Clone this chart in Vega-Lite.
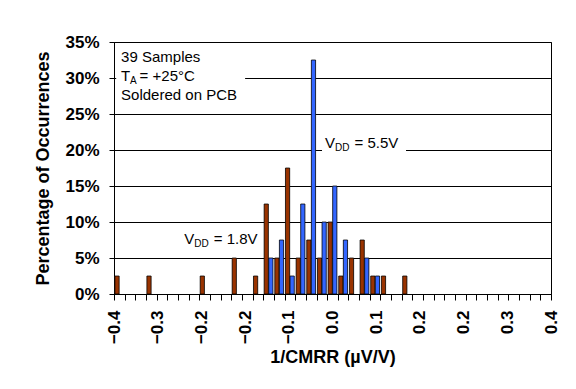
{
  "$schema": "https://vega.github.io/schema/vega-lite/v6.json",
  "width": 437,
  "height": 252,
  "autosize": {"type": "none"},
  "padding": {"left": 114, "top": 42, "right": 25, "bottom": 95},
  "background": "white",
  "config": {
    "font": "Liberation Sans",
    "view": {"stroke": "black", "strokeWidth": 1},
    "axis": {
      "labelFont": "Liberation Sans",
      "titleFont": "Liberation Sans",
      "labelColor": "black",
      "titleColor": "black",
      "domainColor": "black",
      "tickColor": "black",
      "gridColor": "black"
    },
    "text": {"font": "Liberation Sans", "color": "black", "align": "left", "baseline": "alphabetic"}
  },
  "layer": [
    {
      "data": {
        "values": [
          {"bin": -0.4, "series": "1.8V", "pct": 0.025},
          {"bin": -0.34, "series": "1.8V", "pct": 0.025},
          {"bin": -0.24, "series": "1.8V", "pct": 0.025},
          {"bin": -0.18, "series": "1.8V", "pct": 0.05},
          {"bin": -0.14, "series": "1.8V", "pct": 0.025},
          {"bin": -0.12, "series": "1.8V", "pct": 0.125},
          {"bin": -0.1, "series": "1.8V", "pct": 0.05},
          {"bin": -0.08, "series": "1.8V", "pct": 0.175},
          {"bin": -0.06, "series": "1.8V", "pct": 0.05},
          {"bin": -0.04, "series": "1.8V", "pct": 0.075},
          {"bin": -0.02, "series": "1.8V", "pct": 0.05},
          {"bin": 0, "series": "1.8V", "pct": 0.1},
          {"bin": 0.02, "series": "1.8V", "pct": 0.025},
          {"bin": 0.04, "series": "1.8V", "pct": 0.05},
          {"bin": 0.06, "series": "1.8V", "pct": 0.075},
          {"bin": 0.08, "series": "1.8V", "pct": 0.025},
          {"bin": 0.1, "series": "1.8V", "pct": 0.025},
          {"bin": 0.14, "series": "1.8V", "pct": 0.025},
          {"bin": -0.12, "series": "5.5V", "pct": 0.05},
          {"bin": -0.1, "series": "5.5V", "pct": 0.075},
          {"bin": -0.08, "series": "5.5V", "pct": 0.025},
          {"bin": -0.06, "series": "5.5V", "pct": 0.125},
          {"bin": -0.04, "series": "5.5V", "pct": 0.325},
          {"bin": -0.02, "series": "5.5V", "pct": 0.1},
          {"bin": 0, "series": "5.5V", "pct": 0.15},
          {"bin": 0.02, "series": "5.5V", "pct": 0.075},
          {"bin": 0.06, "series": "5.5V", "pct": 0.05},
          {"bin": 0.08, "series": "5.5V", "pct": 0.025}
        ]
      },
      "encoding": {
        "x": {
          "field": "bin",
          "type": "ordinal",
          "scale": {
            "domain": [-0.4, -0.38, -0.36, -0.34, -0.32, -0.3, -0.28, -0.26, -0.24, -0.22, -0.2, -0.18, -0.16, -0.14, -0.12, -0.1, -0.08, -0.06, -0.04, -0.02, 0, 0.02, 0.04, 0.06, 0.08, 0.1, 0.12, 0.14, 0.16, 0.18, 0.2, 0.22, 0.24, 0.26, 0.28, 0.3, 0.32, 0.34, 0.36, 0.38, 0.4],
            "paddingInner": 0,
            "paddingOuter": 0
          },
          "axis": {
            "orient": "bottom",
            "labels": false,
            "title": null,
            "tickBand": "extent",
            "tickSize": 6,
            "grid": false,
            "domainColor": "black"
          }
        },
        "xOffset": {
          "field": "series",
          "type": "nominal",
          "scale": {"domain": ["1.8V", "5.5V"], "paddingInner": 0.08, "paddingOuter": 0.2}
        },
        "y": {
          "field": "pct",
          "type": "quantitative",
          "scale": {"domain": [0, 0.35], "nice": false},
          "axis": {"values": [0, 0.05, 0.1, 0.15, 0.2, 0.25, 0.3, 0.35], "format": ".0%", "grid": true, "gridColor": "black", "gridWidth": 1, "tickSize": 5, "labelPadding": 10, "labelOverlap": false, "labelFontSize": 17, "labelFontWeight": "bold", "title": "Percentage of Occurrences", "titleFontSize": 18, "titleFontWeight": "bold", "titlePadding": 12}
        },
        "color": {
          "field": "series",
          "type": "nominal",
          "scale": {"domain": ["1.8V", "5.5V"], "range": ["#993300", "#3366FF"]},
          "legend": null
        }
      },
      "layer": [
        {
          "mark": {"type": "bar", "xOffset": 2, "stroke": null},
          "encoding": {"color": {"value": "#a6a6a6"}}
        },
        {
          "mark": {"type": "bar", "stroke": "black", "strokeWidth": 0.75}
        }
      ]
    },
    {
      "data": {"values": [{}]},
      "layer": [
        {
          "mark": {"type": "rect", "fill": "white", "stroke": null},
          "encoding": {
            "x": {
              "datum": -0.396,
              "type": "quantitative",
              "scale": {"domain": [-0.4, 0.4], "nice": false, "zero": false},
              "axis": {
                "orient": "bottom",
                "values": [-0.4, -0.32, -0.24, -0.16, -0.08, 0, 0.08, 0.16, 0.24, 0.32, 0.4],
                "format": ".1f",
                "labelAngle": -90,
                "labelFontSize": 17,
                "labelFontWeight": "bold",
                "labelPadding": 16,
                "labelOverlap": false,
                "labelBound": false,
                "ticks": false,
                "tickSize": 0,
                "domain": false,
                "grid": false,
                "title": "1/CMRR (µV/V)",
                "titleFontSize": 18,
                "titleFontWeight": "bold",
                "titlePadding": 5
              }
            },
            "x2": {"datum": -0.16},
            "y": {"datum": 0.27, "type": "quantitative", "axis": {"values": [0, 0.05, 0.1, 0.15, 0.2, 0.25, 0.3, 0.35], "format": ".0%", "grid": true, "gridColor": "black", "gridWidth": 1, "tickSize": 5, "labelPadding": 10, "labelOverlap": false, "labelFontSize": 17, "labelFontWeight": "bold", "title": "Percentage of Occurrences", "titleFontSize": 18, "titleFontWeight": "bold", "titlePadding": 12}},
            "y2": {"datum": 0.335}
          }
        },
        {
          "mark": {"type": "rect", "fill": "white", "stroke": null},
          "encoding": {
            "x": {"datum": -0.0192, "type": "quantitative"},
            "x2": {"datum": 0.1346},
            "y": {"datum": 0.19, "type": "quantitative", "axis": {"values": [0, 0.05, 0.1, 0.15, 0.2, 0.25, 0.3, 0.35], "format": ".0%", "grid": true, "gridColor": "black", "gridWidth": 1, "tickSize": 5, "labelPadding": 10, "labelOverlap": false, "labelFontSize": 17, "labelFontWeight": "bold", "title": "Percentage of Occurrences", "titleFontSize": 18, "titleFontWeight": "bold", "titlePadding": 12}},
            "y2": {"datum": 0.225}
          }
        },
        {
          "mark": {"type": "text", "fontSize": 15, "lineHeight": 19.3, "text": ["39 Samples", "T", "Soldered on PCB"]},
          "encoding": {
            "x": {"datum": -0.387, "type": "quantitative"},
            "y": {"datum": 0.3226, "type": "quantitative", "axis": {"values": [0, 0.05, 0.1, 0.15, 0.2, 0.25, 0.3, 0.35], "format": ".0%", "grid": true, "gridColor": "black", "gridWidth": 1, "tickSize": 5, "labelPadding": 10, "labelOverlap": false, "labelFontSize": 17, "labelFontWeight": "bold", "title": "Percentage of Occurrences", "titleFontSize": 18, "titleFontWeight": "bold", "titlePadding": 12}}
          }
        },
        {
          "mark": {"type": "text", "fontSize": 10, "text": "A", "dx": 9, "dy": 3},
          "encoding": {
            "x": {"datum": -0.387, "type": "quantitative"},
            "y": {"datum": 0.2962, "type": "quantitative", "axis": {"values": [0, 0.05, 0.1, 0.15, 0.2, 0.25, 0.3, 0.35], "format": ".0%", "grid": true, "gridColor": "black", "gridWidth": 1, "tickSize": 5, "labelPadding": 10, "labelOverlap": false, "labelFontSize": 17, "labelFontWeight": "bold", "title": "Percentage of Occurrences", "titleFontSize": 18, "titleFontWeight": "bold", "titlePadding": 12}}
          }
        },
        {
          "mark": {"type": "text", "fontSize": 15, "text": "= +25°C", "dx": 18.5},
          "encoding": {
            "x": {"datum": -0.387, "type": "quantitative"},
            "y": {"datum": 0.2962, "type": "quantitative", "axis": {"values": [0, 0.05, 0.1, 0.15, 0.2, 0.25, 0.3, 0.35], "format": ".0%", "grid": true, "gridColor": "black", "gridWidth": 1, "tickSize": 5, "labelPadding": 10, "labelOverlap": false, "labelFontSize": 17, "labelFontWeight": "bold", "title": "Percentage of Occurrences", "titleFontSize": 18, "titleFontWeight": "bold", "titlePadding": 12}}
          }
        },
        {
          "mark": {"type": "text", "fontSize": 15, "text": "V"},
          "encoding": {
            "x": {"datum": -0.2713, "type": "quantitative"},
            "y": {"datum": 0.0699, "type": "quantitative", "axis": {"values": [0, 0.05, 0.1, 0.15, 0.2, 0.25, 0.3, 0.35], "format": ".0%", "grid": true, "gridColor": "black", "gridWidth": 1, "tickSize": 5, "labelPadding": 10, "labelOverlap": false, "labelFontSize": 17, "labelFontWeight": "bold", "title": "Percentage of Occurrences", "titleFontSize": 18, "titleFontWeight": "bold", "titlePadding": 12}}
          }
        },
        {
          "mark": {"type": "text", "fontSize": 10, "text": "DD", "dx": 10, "dy": 3},
          "encoding": {
            "x": {"datum": -0.2713, "type": "quantitative"},
            "y": {"datum": 0.0699, "type": "quantitative", "axis": {"values": [0, 0.05, 0.1, 0.15, 0.2, 0.25, 0.3, 0.35], "format": ".0%", "grid": true, "gridColor": "black", "gridWidth": 1, "tickSize": 5, "labelPadding": 10, "labelOverlap": false, "labelFontSize": 17, "labelFontWeight": "bold", "title": "Percentage of Occurrences", "titleFontSize": 18, "titleFontWeight": "bold", "titlePadding": 12}}
          }
        },
        {
          "mark": {"type": "text", "fontSize": 15, "text": "= 1.8V", "dx": 29.5},
          "encoding": {
            "x": {"datum": -0.2713, "type": "quantitative"},
            "y": {"datum": 0.0699, "type": "quantitative", "axis": {"values": [0, 0.05, 0.1, 0.15, 0.2, 0.25, 0.3, 0.35], "format": ".0%", "grid": true, "gridColor": "black", "gridWidth": 1, "tickSize": 5, "labelPadding": 10, "labelOverlap": false, "labelFontSize": 17, "labelFontWeight": "bold", "title": "Percentage of Occurrences", "titleFontSize": 18, "titleFontWeight": "bold", "titlePadding": 12}}
          }
        },
        {
          "mark": {"type": "text", "fontSize": 15, "text": "V"},
          "encoding": {
            "x": {"datum": -0.0137, "type": "quantitative"},
            "y": {"datum": 0.2032, "type": "quantitative", "axis": {"values": [0, 0.05, 0.1, 0.15, 0.2, 0.25, 0.3, 0.35], "format": ".0%", "grid": true, "gridColor": "black", "gridWidth": 1, "tickSize": 5, "labelPadding": 10, "labelOverlap": false, "labelFontSize": 17, "labelFontWeight": "bold", "title": "Percentage of Occurrences", "titleFontSize": 18, "titleFontWeight": "bold", "titlePadding": 12}}
          }
        },
        {
          "mark": {"type": "text", "fontSize": 10, "text": "DD", "dx": 10, "dy": 3},
          "encoding": {
            "x": {"datum": -0.0137, "type": "quantitative"},
            "y": {"datum": 0.2032, "type": "quantitative", "axis": {"values": [0, 0.05, 0.1, 0.15, 0.2, 0.25, 0.3, 0.35], "format": ".0%", "grid": true, "gridColor": "black", "gridWidth": 1, "tickSize": 5, "labelPadding": 10, "labelOverlap": false, "labelFontSize": 17, "labelFontWeight": "bold", "title": "Percentage of Occurrences", "titleFontSize": 18, "titleFontWeight": "bold", "titlePadding": 12}}
          }
        },
        {
          "mark": {"type": "text", "fontSize": 15, "text": "= 5.5V", "dx": 29.5},
          "encoding": {
            "x": {"datum": -0.0137, "type": "quantitative"},
            "y": {"datum": 0.2032, "type": "quantitative", "axis": {"values": [0, 0.05, 0.1, 0.15, 0.2, 0.25, 0.3, 0.35], "format": ".0%", "grid": true, "gridColor": "black", "gridWidth": 1, "tickSize": 5, "labelPadding": 10, "labelOverlap": false, "labelFontSize": 17, "labelFontWeight": "bold", "title": "Percentage of Occurrences", "titleFontSize": 18, "titleFontWeight": "bold", "titlePadding": 12}}
          }
        }
      ]
    }
  ],
  "resolve": {"scale": {"x": "independent"}}
}
